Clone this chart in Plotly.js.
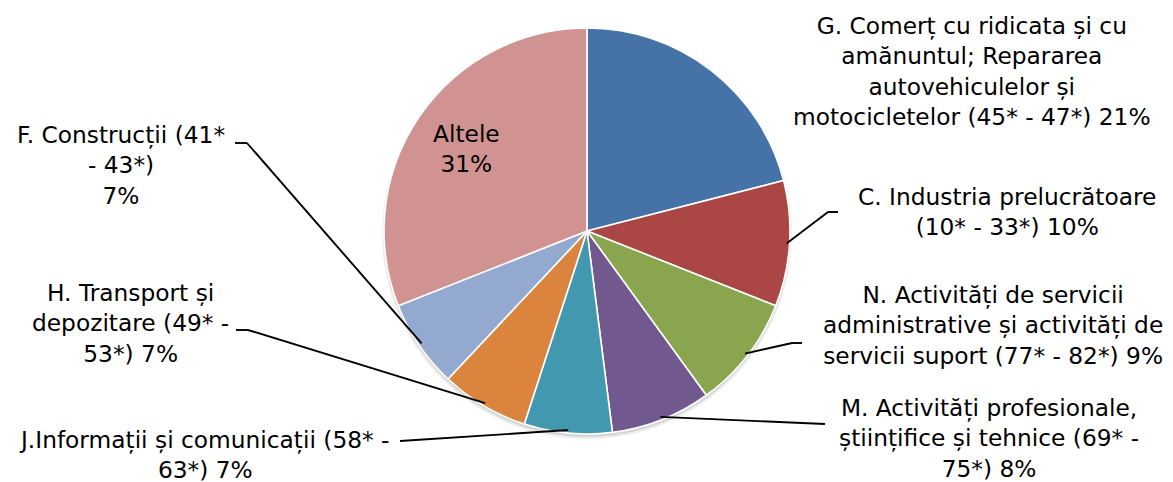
<!DOCTYPE html>
<html>
<head>
<meta charset="utf-8">
<script src="https://cdn.plot.ly/plotly-3.0.1.min.js"></script>
<style>html,body{margin:0;padding:0;background:#fff;}#chart{width:1173px;height:482px;}</style>
</head>
<body>
<div id="chart"></div>
<script>
// ---- data ----
const categories = ['G', 'C', 'N', 'M', 'J', 'H', 'F', 'Altele'];
const labelTexts = [
  'G. Comerț cu ridicata și cu<br>amănuntul; Repararea<br>autovehiculelor și<br>motocicletelor (45* - 47*) {p}',
  'C. Industria prelucrătoare<br>(10* - 33*) {p}',
  'N. Activități de servicii<br>administrative și activități de<br>servicii suport (77* - 82*) {p}',
  'M. Activități profesionale,<br>științifice și tehnice (69* -<br>75*) {p}',
  'J.Informații și comunicații (58* -<br>63*) {p}',
  'H. Transport și<br>depozitare (49* -<br>53*) {p}',
  'F. Construcții (41*<br>- 43*)<br>{p}',
  'Altele<br>{p}'
];
const values = [21, 10, 9, 8, 7, 7, 7, 31];
const colors = ['#4572A7', '#AA4643', '#89A54E', '#71588F', '#4198AF', '#DB843D', '#93A9CF', '#D19392'];

// ---- layout geometry (pixels) ----
const W = 1173, H = 482;
const cx = 587, cy = 231, R = 203;
// label centres
const labelPos = [[972, 71], [1007, 211], [993, 325], [989, 438], [204, 454], [130, 323], [121, 165], null];
// leader line points after the anchor: [elbow, end]
const leaderPts = [
  null,
  [[828, 212], [838, 212]],
  [[792, 343], [802, 343]],
  [[825, 424]],
  [[400, 441]],
  [[248, 330], [236, 330]],
  [[247, 143], [235, 143]],
  null
];

const px = x => x / W;
const py = y => 1 - y / H;
const FONT = 'DejaVu Sans';
const FS = 23.3;

const total = values.reduce((a, b) => a + b, 0);
let cum = 0;
const annotations = [];
const shapes = [];

// soft shadow under the pie
shapes.push({type: 'circle', xref: 'paper', yref: 'paper', layer: 'below',
  x0: px(cx - R - 2), x1: px(cx + R + 2), y0: py(cy + R + 5), y1: py(cy - R + 1),
  fillcolor: 'rgba(0,0,0,0.07)', line: {width: 0}});
shapes.push({type: 'circle', xref: 'paper', yref: 'paper', layer: 'below',
  x0: px(cx - R - 0.5), x1: px(cx + R + 0.5), y0: py(cy + R + 3), y1: py(cy - R + 1),
  fillcolor: 'rgba(0,0,0,0.10)', line: {width: 0}});

values.forEach((v, i) => {
  const mid = 2 * Math.PI * (cum + v / 2) / total;
  cum += v;
  const pct = Math.round(100 * v / total) + '%';
  const txt = labelTexts[i].replace('{p}', pct);
  if (labelPos[i]) {
    annotations.push({xref: 'paper', yref: 'paper', x: px(labelPos[i][0]), y: py(labelPos[i][1]),
      text: txt, showarrow: false, xanchor: 'center', yanchor: 'middle', align: 'center',
      font: {family: FONT, size: FS, color: '#000'}});
  } else {
    // inside label
    const r = 0.72 * R;
    annotations.push({xref: 'paper', yref: 'paper', x: px(cx + r * Math.sin(mid)), y: py(cy - r * Math.cos(mid)),
      text: txt, showarrow: false, xanchor: 'center', yanchor: 'middle', align: 'center',
      font: {family: FONT, size: FS, color: '#000'}});
  }
  if (leaderPts[i]) {
    const ar = 0.985 * R;
    let prev = [cx + ar * Math.sin(mid), cy - ar * Math.cos(mid)];
    leaderPts[i].forEach(p => {
      shapes.push({type: 'line', xref: 'paper', yref: 'paper', layer: 'above',
        x0: px(prev[0]), y0: py(prev[1]), x1: px(p[0]), y1: py(p[1]),
        line: {color: '#000', width: 1.9}});
      prev = p;
    });
  }
});

const trace = {
  type: 'pie',
  labels: categories,
  values: values,
  sort: false,
  direction: 'clockwise',
  rotation: 0,
  textinfo: 'none',
  hoverinfo: 'label+percent',
  marker: {colors: colors, line: {color: '#ffffff', width: 1.6}},
  domain: {x: [px(cx - R), px(cx + R)], y: [py(cy + R), py(cy - R)]},
  showlegend: false
};

const layout = {
  width: W, height: H,
  margin: {l: 0, r: 0, t: 0, b: 0},
  paper_bgcolor: '#fff',
  showlegend: false,
  font: {family: FONT},
  annotations: annotations,
  shapes: shapes
};

Plotly.newPlot('chart', [trace], layout, {displayModeBar: false, staticPlot: true});
</script>
</body>
</html>
